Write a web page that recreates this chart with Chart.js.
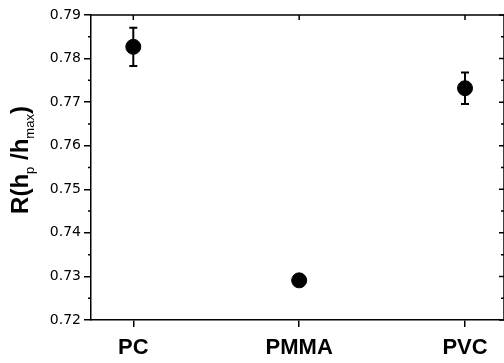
<!DOCTYPE html>
<html>
<head>
<meta charset="utf-8">
<script src="https://cdn.jsdelivr.net/npm/chart.js@4.4.1/dist/chart.umd.min.js"></script>
<style>
  html, body { margin: 0; padding: 0; background: #fff; }
  #wrap { width: 504px; height: 363px; }
</style>
</head>
<body>
<div id="wrap"><canvas id="rChart" width="504" height="363"></canvas></div>
<script>
// Data
const materials = ["PC", "PMMA", "PVC"];
const positions = [1, 2, 3];
const ratioValues = [0.7827, 0.7291, 0.7732];
const ratioErrors = [0.0044, 0.0010, 0.0036];
const yTicks = [0.72, 0.73, 0.74, 0.75, 0.76, 0.77, 0.78, 0.79];

const ctx = document.getElementById("rChart").getContext("2d");

// Error bars, the box frame, minor ticks and the subscripted y title
const extrasPlugin = {
  id: "extras",
  afterDatasetsDraw: (chart) => {
    const { ctx, chartArea } = chart;
    const xs = chart.scales.x;
    const ys = chart.scales.y;
    ctx.save();
    ctx.strokeStyle = "#000";
    ctx.lineWidth = 2;

    // error bars
    positions.forEach((p, i) => {
      const px = xs.getPixelForValue(p);
      const top = ys.getPixelForValue(ratioValues[i] + ratioErrors[i]);
      const bot = ys.getPixelForValue(ratioValues[i] - ratioErrors[i]);
      ctx.beginPath();
      ctx.moveTo(px, top);
      ctx.lineTo(px, bot);
      ctx.moveTo(px - 4, top);
      ctx.lineTo(px + 4, top);
      ctx.moveTo(px - 4, bot);
      ctx.lineTo(px + 4, bot);
      ctx.stroke();
    });

    // top and right lines of the frame
    ctx.lineWidth = 1.5;
    ctx.beginPath();
    ctx.moveTo(chartArea.left, chartArea.top);
    ctx.lineTo(chartArea.right, chartArea.top);
    ctx.lineTo(chartArea.right, chartArea.bottom);
    ctx.stroke();

    // inward ticks on top and right, minor ticks left and right
    ctx.beginPath();
    positions.forEach((p) => {
      const px = xs.getPixelForValue(p);
      ctx.moveTo(px, chartArea.top);
      ctx.lineTo(px, chartArea.top + 5);
    });
    yTicks.forEach((v, i) => {
      const py = ys.getPixelForValue(v);
      ctx.moveTo(chartArea.right, py);
      ctx.lineTo(chartArea.right - 5, py);
      if (i < yTicks.length - 1) {
        const pm = ys.getPixelForValue(v + 0.005);
        ctx.moveTo(chartArea.left, pm);
        ctx.lineTo(chartArea.left - 3, pm);
        ctx.moveTo(chartArea.right, pm);
        ctx.lineTo(chartArea.right - 3, pm);
      }
    });
    ctx.stroke();

    // y title: R(h_p/h_max)
    const parts = [
      { t: "R(h", f: "bold 24px 'Liberation Sans', Arial", dy: 0 },
      { t: "p", f: "13px 'Liberation Sans', Arial", dy: 6 },
      { t: " /h", f: "bold 24px 'Liberation Sans', Arial", dy: 0 },
      { t: "max", f: "13px 'Liberation Sans', Arial", dy: 6 },
      { t: ")", f: "bold 24px 'Liberation Sans', Arial", dy: 0 },
    ];
    let total = 0;
    parts.forEach((pt) => {
      ctx.font = pt.f;
      pt.w = ctx.measureText(pt.t).width;
      total += pt.w;
    });
    ctx.translate(28, 160);
    ctx.rotate(-Math.PI / 2);
    ctx.fillStyle = "#000";
    ctx.textBaseline = "alphabetic";
    ctx.textAlign = "left";
    let x = -total / 2;
    parts.forEach((pt) => {
      ctx.font = pt.f;
      ctx.fillText(pt.t, x, pt.dy);
      x += pt.w;
    });
    ctx.restore();
  },
};

new Chart(ctx, {
  type: "scatter",
  data: {
    datasets: [
      {
        label: "R(hp/hmax)",
        data: positions.map((p, i) => ({ x: p, y: ratioValues[i] })),
        backgroundColor: "#000",
        borderColor: "#000",
        pointRadius: 7.5,
        pointHoverRadius: 7.5,
      },
    ],
  },
  options: {
    responsive: false,
    animation: false,
    layout: { autoPadding: false, padding: { left: 0, top: 15, right: 0, bottom: 0 } },
    plugins: {
      legend: { display: false },
      tooltip: { enabled: false },
    },
    scales: {
      x: {
        type: "linear",
        min: 0.745,
        max: 3.235,
        afterBuildTicks: (scale) => {
          scale.ticks = positions.map((p) => ({ value: p }));
        },
        afterFit: (scale) => {
          scale.height = 43;
          scale.paddingLeft = 0;
          scale.paddingRight = 0;
        },
        ticks: {
          color: "#000",
          padding: 8,
          font: { family: "'Liberation Sans', Arial", size: 22, weight: "bold" },
          callback: (v) => materials[positions.indexOf(v)] || "",
        },
        grid: {
          drawOnChartArea: false,
          color: "#000",
          lineWidth: 1.5,
          tickLength: 7,
        },
        border: { display: true, color: "#000", width: 1.5 },
      },
      y: {
        min: 0.72,
        max: 0.79,
        afterBuildTicks: (scale) => {
          scale.ticks = yTicks.map((v) => ({ value: v }));
        },
        afterFit: (scale) => {
          scale.width = 91;
        },
        ticks: {
          color: "#000",
          padding: 3,
          font: { family: "'DejaVu Sans'", size: 14 },
          callback: (v) => v.toFixed(2),
        },
        grid: {
          drawOnChartArea: false,
          color: "#000",
          lineWidth: 1.5,
          tickLength: 7,
        },
        border: { display: true, color: "#000", width: 1.5 },
      },
    },
  },
  plugins: [extrasPlugin],
});
</script>
</body>
</html>
